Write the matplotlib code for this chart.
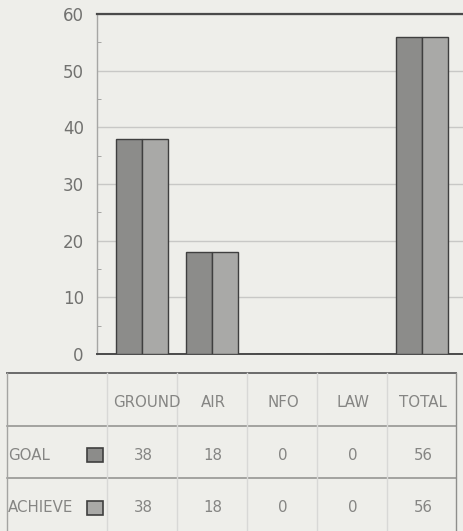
import matplotlib
matplotlib.use("Agg")
import matplotlib.pyplot as plt
from matplotlib.patches import Rectangle

# Data
categories = ["GROUND", "AIR", "NFO", "LAW", "TOTAL"]
series_names = ["GOAL", "ACHIEVE"]
goal = [38, 18, 0, 0, 56]
achieve = [38, 18, 0, 0, 56]
y_ticks = [0, 10, 20, 30, 40, 50, 60]

W, H = 464, 531
BG = "#eeeeea"
TXT = "#858583"
GOAL_C = "#8c8c8a"
ACH_C = "#a9a9a7"
EDGE = "#3f3f3f"

fig = plt.figure(figsize=(W / 100, H / 100), dpi=100, facecolor=BG)

# Chart area in pixel terms
ax_left, ax_top, ax_bottom = 97, 14, 354
ax_right = 467
ax = fig.add_axes([ax_left / W, (H - ax_bottom) / H,
                   (ax_right - ax_left) / W, (ax_bottom - ax_top) / H])
ax.set_facecolor(BG)

x = list(range(len(categories)))
bw = 0.37
ax.bar([i - bw / 2 for i in x], goal, width=bw, color=GOAL_C,
       edgecolor=EDGE, linewidth=1.0, zorder=3)
ax.bar([i + bw / 2 for i in x], achieve, width=bw, color=ACH_C,
       edgecolor=EDGE, linewidth=1.0, zorder=3)

ax.set_xlim(-0.643, 4.643)
ax.set_ylim(0, 60)
ax.set_yticks(y_ticks)
ax.set_yticklabels([str(v) for v in y_ticks], fontsize=12, color="#727270")
ax.set_yticks([5, 15, 25, 35, 45, 55], minor=True)
ax.tick_params(axis="y", which="major", length=0, pad=9.5)
ax.tick_params(axis="y", which="minor", length=3, direction="in", color="#9a9a98")
ax.set_xticks([])
ax.grid(axis="y", color="#c8c8c6", linewidth=1.0, zorder=0)
ax.spines["top"].set_color("#4a4a4a")
ax.spines["top"].set_linewidth(1.6)
ax.spines["bottom"].set_color("#4a4a4a")
ax.spines["bottom"].set_linewidth(1.4)
ax.spines["left"].set_color("#a6a6a4")
ax.spines["left"].set_linewidth(1.0)
ax.spines["right"].set_visible(False)

# Data table below the chart, laid out in pixel coordinates
tab = fig.add_axes([0, 0, 1, 1], facecolor="none")
tab.set_xlim(0, W)
tab.set_ylim(H, 0)
tab.axis("off")

t_left, t_right = 7, 456
row_y = [373, 426, 478, 531]
col_centers = [142 + 70 * i for i in x]
col_edges = [107] + [c + 35 for c in col_centers[:-1]] + [t_right]

line_c = "#a4a4a2"
tab.plot([t_left, t_right], [row_y[0], row_y[0]], color="#6a6a6a", lw=1.4)
for yy in row_y[1:3]:
    tab.plot([t_left, t_right], [yy, yy], color="#8e8e8c", lw=1.1)
tab.plot([t_left, t_left], [row_y[0], H], color=line_c, lw=1.0)
tab.plot([t_right, t_right], [row_y[0], H], color="#8e8e8c", lw=1.0)
for ex in col_edges[:-1]:
    tab.plot([ex, ex], [row_y[0], H], color="#d8d8d6", lw=1.0)

fs = 10.8
hdr_y = (row_y[0] + row_y[1]) / 2 + 3
for cx, name in zip(col_centers, categories):
    tab.text(cx + (5 if name == "GROUND" else 1), hdr_y, name, ha="center",
             va="center", fontsize=fs, color=TXT)

rows = [goal, achieve]
swatch_colors = [GOAL_C, ACH_C]
for r, (label, vals, sc) in enumerate(zip(series_names, rows, swatch_colors)):
    cy = (row_y[r + 1] + row_y[r + 2]) / 2 + 3
    tab.text(t_left + 1, cy, label, ha="left", va="center",
             fontsize=fs, color=TXT)
    tab.add_patch(Rectangle((87, cy - 7), 16, 14, facecolor=sc,
                            edgecolor=EDGE, lw=1.2))
    for cx, v in zip(col_centers, vals):
        tab.text(cx + 1, cy, str(v), ha="center", va="center",
                 fontsize=fs, color=TXT)

fig.savefig("out.png", dpi=100, facecolor=BG)
